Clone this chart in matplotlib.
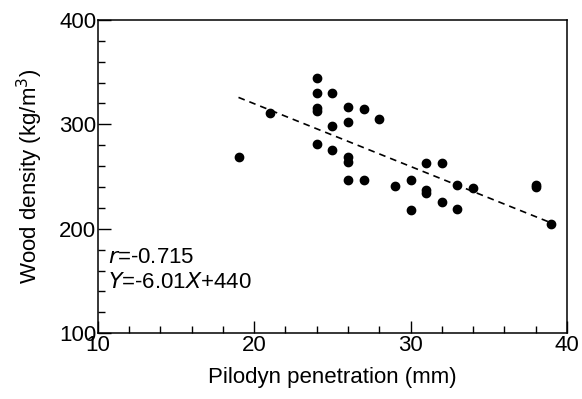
import numpy as np
import matplotlib
matplotlib.use("Agg")
import matplotlib.pyplot as plt

plt.rcParams['font.family'] = ['Liberation Sans', 'DejaVu Sans']

# Pilodyn penetration (mm) and wood density (kg/m3)
pilodyn = [19, 21,
           24, 24, 24, 24, 24,
           25, 25, 25,
           26, 26, 26, 26, 26,
           27, 27, 28,
           29, 30, 30,
           31, 31, 31,
           32, 32, 33, 33, 34,
           38, 38, 39]
density = [269, 311,
           344, 330, 316, 313, 281,
           330, 298, 275,
           317, 302, 269, 264, 247,
           315, 247, 305,
           241, 247, 218,
           263, 237, 234,
           263, 226, 242, 219, 239,
           242, 240, 205]

# regression reported on the chart
slope = -6.01
intercept = 440
fit_x = np.array([min(pilodyn), max(pilodyn)])
fit_y = slope * fit_x + intercept

fig = plt.figure(figsize=(5.82, 3.99), dpi=100)
ax = fig.add_axes([0.168, 0.165, 0.806, 0.785])

ax.plot(pilodyn, density, 'o', color='black', markersize=6, zorder=3)
ax.plot(fit_x, fit_y, color='black', linewidth=1.2, linestyle=(0, (4, 3)))

ax.set_xlim(10, 40)
ax.set_ylim(100, 400)
ax.set_xticks([10, 20, 30, 40])
ax.set_yticks([100, 200, 300, 400])
ax.set_xticks(np.arange(10, 41, 2), minor=True)
ax.set_yticks(np.arange(100, 401, 20), minor=True)
ax.tick_params(which='major', direction='in', length=9, width=1, labelsize=16, pad=1)
ax.tick_params(which='minor', direction='in', length=5, width=1)
for s in ax.spines.values():
    s.set_linewidth(1.1)

ax.set_xlabel("Pilodyn penetration (mm)", fontsize=16, labelpad=8)
ax.set_ylabel("Wood density (kg/m$^3$)", fontsize=16, labelpad=10)

ax.text(0.021, 0.24, "$\\mathit{r}$=-0.715", transform=ax.transAxes,
        fontsize=16, va='center')
ax.text(0.021, 0.163, "$\\mathit{Y}$=-6.01$\\mathit{X}$+440", transform=ax.transAxes,
        fontsize=16, va='center')

fig.savefig("out.png", dpi=100)
